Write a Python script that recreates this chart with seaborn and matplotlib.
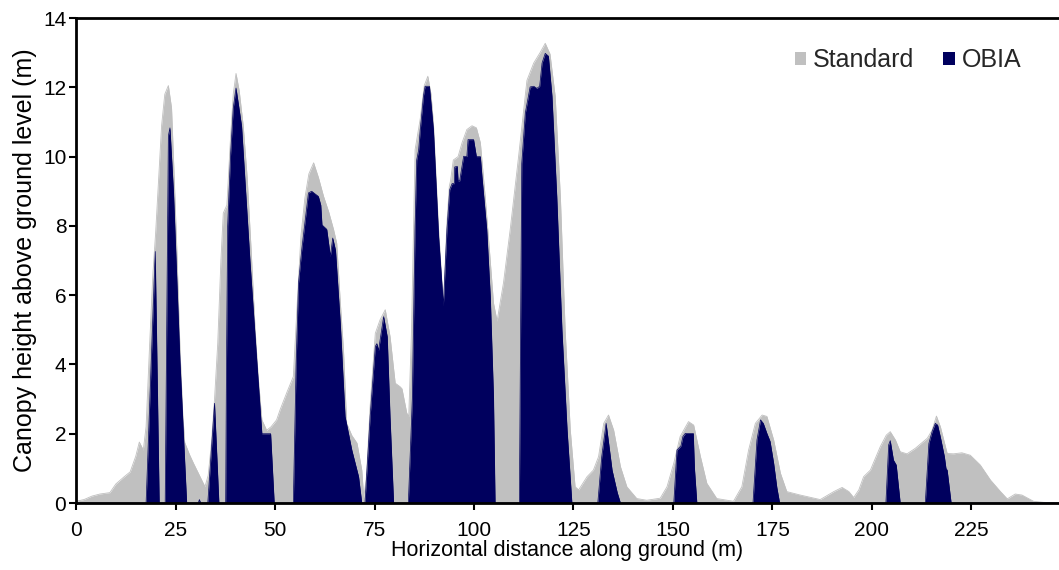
import numpy as np
import pandas as pd
import matplotlib
matplotlib.use("Agg")
import matplotlib.pyplot as plt
from matplotlib.patches import Patch
import seaborn as sns

# ---------------- data ----------------
std_x = [0, 2, 4, 6, 8.5, 10, 12, 13.6, 15.0, 15.9, 16.9, 17.6, 18.5, 19.3, 20.0, 20.7,
         21.5, 22.3, 23.2, 24.0, 24.6, 25.3, 26.1, 26.8, 27.3, 28.5, 29.5, 31.0, 32.4,
         33.2, 34.0, 34.8, 35.6, 36.4, 37.0, 37.9, 38.8, 39.5, 40.2, 41.0, 42.0, 43.0,
         44.0, 45.0, 45.8, 46.7, 47.9, 49.0, 50.4, 51.3, 53.0, 54.6, 55.5, 56.5, 57.5,
         58.5, 59.7, 60.9, 62.2, 63.5, 64.7, 65.5, 66.4, 67.2, 68.0, 69.3, 70.6, 71.8,
         72.3, 73.0, 73.9, 75.2, 76.4, 77.7, 78.9, 80.2, 81.4, 81.9, 83.1, 83.6, 84.3,
         85.2, 86.5, 87.5, 88.4, 89.2, 89.8, 91.1, 92.3, 93.2, 93.8, 94.1, 94.8, 96.0,
         97.0, 98.2, 99.5, 100.6, 101.6, 102.8, 103.8, 104.9, 105.8, 107.4, 109.1,
         111.2, 113.3, 115.0, 116.6, 117.9, 119.1, 120.4, 121.7, 122.9, 124.2, 125.4,
         126.3, 128.4, 130.0, 131.3, 132.6, 133.8, 135.1, 136.8, 138.4, 140.9, 143.4,
         146.8, 148.5, 150.2, 151.8, 153.9, 155.2, 156.9, 158.5, 161.0, 165.2, 167.3,
         169.0, 170.7, 172.4, 173.6, 175.3, 177.0, 178.6, 182.0, 187.0, 190.4, 192.5,
         194.2, 195.4, 196.7, 197.9, 199.6, 202.1, 203.6, 204.6, 205.9, 207.1, 208.8,
         210.9, 213.9, 215.1, 216.2, 217.2, 218.9, 220.5, 222.6, 224.7, 227.2, 229.8,
         232.3, 234.0, 236.0, 237.7, 240.6, 243.1, 247.0]
std_y = [0.05, 0.1, 0.2, 0.26, 0.3, 0.55, 0.75, 0.9, 1.35, 1.76, 1.53, 2.2, 4.6, 6.6, 7.8, 9.25,
         10.9, 11.8, 12.05, 11.4, 9.6, 7.4, 4.5, 2.6, 1.75, 1.4, 1.15, 0.8, 0.47,
         0.8, 1.7, 3.0, 4.6, 7.0, 8.37, 8.6, 10.5, 11.8, 12.4, 11.9, 10.9, 9.4,
         7.3, 5.0, 3.6, 2.4, 2.1, 2.2, 2.4, 2.7, 3.2, 3.65, 5.6, 7.7, 8.8,
         9.5, 9.82, 9.4, 8.85, 8.4, 7.9, 7.5, 5.8, 4.42, 2.3, 1.95, 1.73, 0.95,
         0.15, 0.8, 2.8, 4.9, 5.29, 5.58, 4.81, 3.46, 3.36, 3.3, 2.6, 2.5, 5.0,
         10.2, 11.1, 12.05, 12.32, 11.8, 10.97, 7.9, 5.7, 8.1, 9.15, 9.3, 9.9, 10.0,
         10.4, 10.78, 10.89, 10.83, 10.4, 8.85, 7.41, 5.77, 5.25, 6.35, 7.9,
         10.0, 12.2, 12.7, 13.0, 13.27, 12.96, 11.74, 8.85, 5.0, 2.1, 0.47,
         0.38, 0.76, 0.95, 1.34, 2.3, 2.54, 2.1, 1.05, 0.47, 0.13, 0.08,
         0.14, 0.47, 1.15, 1.92, 2.35, 2.25, 1.34, 0.57, 0.13, 0.05, 0.47,
         1.53, 2.3, 2.54, 2.5, 1.82, 0.86, 0.33, 0.23, 0.1, 0.33, 0.45,
         0.33, 0.16, 0.38, 0.76, 0.95, 1.63, 1.96, 2.06, 1.82, 1.48, 1.42,
         1.58, 1.87, 2.1, 2.51, 2.2, 1.43, 1.42, 1.45, 1.38, 1.1, 0.66,
         0.33, 0.12, 0.26, 0.23, 0.05, 0.02, 0.0]

obia_x = [0, 17.6, 19.9, 20.9,
          22.4, 23.2, 23.6, 24.5, 26.1, 27.8,
          30.7, 31.0, 31.3,
          33.1, 34.8, 35.9,
          37.6, 37.8, 38.1, 38.8, 39.5, 40.2, 41.6, 43.7, 45.4, 46.7, 47.1, 48.9, 49.8,
          54.6, 55.3, 55.9, 56.7, 58.4, 59.2, 60.9, 61.5, 61.8, 63.0, 63.9, 64.5, 65.2,
          66.4, 67.6, 69.3, 71.0, 71.8,
          72.6, 73.9, 75.2, 75.6, 76.0, 77.3, 78.2, 78.9, 79.8,
          83.5, 84.5, 85.2, 85.6, 86.1, 86.5, 87.3, 87.7, 88.8, 89.8, 91.1, 92.3, 93.2,
          93.9, 94.5, 95.05, 95.15, 95.8, 96.0, 96.4, 97.4, 98.2, 98.5, 99.9, 100.6,
          101.6, 102.0, 103.2, 104.1, 104.9, 105.3,
          111.4, 112.0, 112.9, 114.1, 115.0, 115.8, 116.5, 117.1, 117.9, 118.7, 119.6,
          120.8, 122.1, 123.4, 124.6,
          131.1, 132.1, 133.2, 134.7, 136.0, 136.8,
          150.2, 151.0, 151.6, 152.0, 152.5, 153.1, 155.1, 155.4, 156.0,
          170.1, 171.1, 172.0, 172.7, 173.6, 174.4, 175.3, 176.1, 176.8,
          203.5, 204.2, 204.6, 205.4, 205.9, 206.1, 207.1,
          213.4, 214.3, 215.1, 215.9, 216.5, 217.2, 218.2, 218.6, 218.9, 219.9,
          247.0]
obia_y = [0, 0, 7.26, 0,
          0, 10.6, 10.83, 8.95, 4.13, 0,
          0, 0.1, 0,
          0, 2.88, 0,
          0, 4.0, 8.0, 10.0, 11.4, 11.98, 10.88, 7.0, 4.13, 2.0, 2.0, 2.0, 0,
          0, 4.0, 6.35, 7.3, 8.95, 9.0, 8.85, 8.6, 8.03, 7.9, 7.12, 7.65, 7.3,
          5.2, 2.5, 1.53, 0.76, 0,
          0, 2.5, 4.52, 4.6, 4.4, 5.38, 4.8, 2.5, 0,
          0, 3.0, 8.0, 9.9, 10.2, 10.78, 11.76, 12.03, 12.03, 10.78, 7.7, 5.7, 7.9,
          9.05, 9.22, 9.22, 9.7, 9.72, 9.3, 9.3, 10.01, 10.0, 10.49, 10.49, 10.0,
          10.0, 9.43, 7.9, 5.96, 3.07, 0,
          0, 9.8, 11.26, 12.01, 12.03, 11.97, 12.03, 12.7, 12.98, 12.9, 11.74,
          8.85, 5.0, 2.1, 0,
          0, 1.34, 2.3, 0.95, 0.3, 0,
          0, 1.53, 1.6, 1.65, 1.92, 2.01, 2.01, 1.0, 0,
          0, 1.82, 2.4, 2.3, 2.01, 1.78, 1.15, 0.45, 0,
          0, 1.68, 1.8, 1.24, 1.14, 1.1, 0,
          0, 1.72, 2.06, 2.3, 2.25, 1.9, 1.34, 1.0, 0.95, 0,
          0]

series_labels = ["Standard", "OBIA"]
x_ticks = [0, 25, 50, 75, 100, 125, 150, 175, 200, 225]
y_ticks = [0, 2, 4, 6, 8, 10, 12, 14]

# ---------------- style ----------------
sns.set_theme(style="ticks")
plt.rcParams["font.family"] = ["Liberation Sans", "DejaVu Sans"]

GRAY = "#C0C0C0"
NAVY = "#00005E"

fig = plt.figure(figsize=(10.59, 5.70), dpi=100)
ax = fig.add_axes([0.0718, 0.1175, 0.9282, 0.8509])

std_df = pd.DataFrame({"x": std_x, "y": std_y})
obia_df = pd.DataFrame({"x": obia_x, "y": obia_y})

sns.lineplot(data=std_df, x="x", y="y", estimator=None, sort=False,
             color=GRAY, lw=0.6, ax=ax, zorder=2)
sns.lineplot(data=obia_df, x="x", y="y", estimator=None, sort=False,
             color=NAVY, lw=0.5, ax=ax, zorder=3)

std_line, obia_line = ax.get_lines()[0], ax.get_lines()[1]
ax.fill_between(std_line.get_xdata(), 0, std_line.get_ydata(),
                color=GRAY, lw=0, zorder=2)
ax.fill_between(obia_line.get_xdata(), 0, obia_line.get_ydata(),
                color=NAVY, lw=0, zorder=3)

ax.set_xlim(0, 247)
ax.set_ylim(0, 14)
ax.set_xticks(x_ticks)
ax.set_yticks(y_ticks)
ax.tick_params(axis="both", labelsize=15, length=5, width=1.5, color="black",
               direction="out", labelcolor="black")
ax.tick_params(axis="x", pad=8)
ax.tick_params(axis="y", pad=2)

ax.set_xlabel("Horizontal distance along ground (m)", fontsize=15.5, labelpad=0, color="black")
ax.set_ylabel("Canopy height above ground level (m)", fontsize=18, labelpad=4, color="black")

for side in ["left", "bottom", "top"]:
    ax.spines[side].set_linewidth(2)
    ax.spines[side].set_color("black")
    ax.spines[side].set_zorder(5)
ax.spines["right"].set_visible(False)

handles = [Patch(facecolor=GRAY, edgecolor="none"), Patch(facecolor=NAVY, edgecolor="none")]
ax.legend(handles, series_labels, loc="center right", bbox_to_anchor=(0.962, 0.913),
          ncol=2, frameon=False, fontsize=18, handlelength=0.45, handleheight=0.45,
          handletextpad=0.3, columnspacing=1.15, borderpad=0, borderaxespad=0)

fig.savefig("out.png", dpi=100)
